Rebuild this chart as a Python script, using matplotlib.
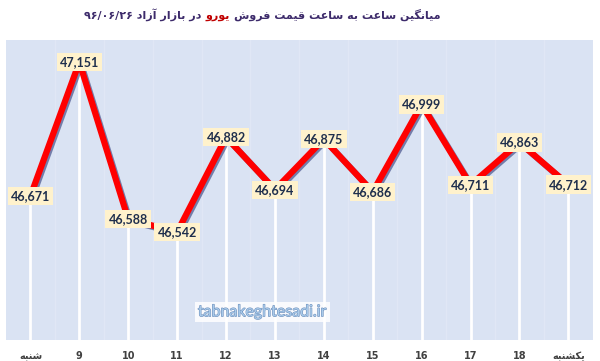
import matplotlib
matplotlib.use("Agg")
import matplotlib.pyplot as plt
import matplotlib.patheffects as pe

# hourly average euro price, free market 96/06/26
hours = ["شنبه", "9", "10", "11", "12", "13", "14", "15", "16", "17", "18", "یکشنبه"]
prices = [46671, 47151, 46588, 46542, 46882, 46694, 46875, 46686, 46999, 46711, 46863, 46712]

title_a = "میانگین ساعت به ساعت قیمت فروش"
title_b = "یورو"
title_c = "در بازار آزاد"
title_date = "۹۶/۰۶/۲۶"

# minimal persian shaping (matplotlib has no bidi / joining)
FORMS = {
    "ا": ("\uFE8D", "\uFE8E", None, None), "آ": ("\uFE81", "\uFE82", None, None),
    "د": ("\uFEA9", "\uFEAA", None, None), "ر": ("\uFEAD", "\uFEAE", None, None),
    "ز": ("\uFEAF", "\uFEB0", None, None), "و": ("\uFEED", "\uFEEE", None, None),
    "ب": ("\uFE8F", "\uFE90", "\uFE91", "\uFE92"), "ت": ("\uFE95", "\uFE96", "\uFE97", "\uFE98"),
    "س": ("\uFEB1", "\uFEB2", "\uFEB3", "\uFEB4"), "ش": ("\uFEB5", "\uFEB6", "\uFEB7", "\uFEB8"),
    "ع": ("\uFEC9", "\uFECA", "\uFECB", "\uFECC"), "ف": ("\uFED1", "\uFED2", "\uFED3", "\uFED4"),
    "ق": ("\uFED5", "\uFED6", "\uFED7", "\uFED8"), "م": ("\uFEE1", "\uFEE2", "\uFEE3", "\uFEE4"),
    "ن": ("\uFEE5", "\uFEE6", "\uFEE7", "\uFEE8"), "ه": ("\uFEE9", "\uFEEA", "\uFEEB", "\uFEEC"),
    "ی": ("\uFBFC", "\uFBFD", "\uFBFE", "\uFBFF"), "ک": ("\uFB8E", "\uFB8F", "\uFB90", "\uFB91"),
    "گ": ("\uFB92", "\uFB93", "\uFB94", "\uFB95"),
}


def shape(s):
    out = []
    for i, c in enumerate(s):
        if c not in FORMS:
            out.append(c)
            continue
        prev = s[i - 1] if i > 0 else ""
        nxt = s[i + 1] if i + 1 < len(s) else ""
        jp = prev in FORMS and FORMS[prev][2] is not None
        jn = FORMS[c][2] is not None and nxt in FORMS
        iso, fin, ini, med = FORMS[c]
        out.append(med if jp and jn else fin if jp else ini if jn else iso)
    return "".join(out)[::-1]


def label(s):
    return shape(s) if any(c in FORMS for c in s) else s


fig = plt.figure(figsize=(6, 3.61), dpi=100)
fig.patch.set_facecolor("white")
ax = fig.add_axes([0.01, 0.058, 0.978, 0.831])
ax.set_facecolor("#dae3f3")

x = list(range(len(hours)))
ax.set_xlim(-0.5, len(hours) - 0.5)
ax.set_ylim(46155, 47230)

for i in x:
    ax.axvline(i + 0.5, color="#e0e7f5", lw=1, zorder=1)
ax.vlines(x, 46155, prices, color="white", lw=2, zorder=2)

ax.plot(x, prices, color="#ff0000", lw=4.5, solid_capstyle="butt", zorder=3,
        path_effects=[pe.SimpleLineShadow(offset=(1.2, -1.2), shadow_color="#1f2a6e", alpha=0.55),
                      pe.Normal()])

for i, v in zip(x, prices):
    ax.text(i, v, f"{v:,}", ha="center", va="center", fontsize=9, fontweight="bold",
            family="Lato", color="#1f2f4d", zorder=5,
            bbox=dict(boxstyle="square,pad=0.25", fc="#fff2cc", ec="none"))

ax.set_xticks(x)
ax.set_xticklabels([label(h) for h in hours], fontsize=7, fontweight="bold", color="#404040",
                   family=["DejaVu Sans"])
ax.tick_params(axis="x", length=0, pad=8)
ax.set_yticks([])
for s in ax.spines.values():
    s.set_visible(False)

# title built from pieces, left to right in visual order
tcol = "#3d2b6b"
tsize = 8
t0 = fig.text(0.14, 0.96, title_date + " " + shape(title_c) + " ", fontsize=tsize,
              fontweight="bold", color=tcol, va="center", ha="left")
t1 = ax.annotate(shape(title_b) + " ", xy=(1, 0), xycoords=t0, va="bottom", ha="left",
                 fontsize=tsize, fontweight="bold", color="#c00000")
t2 = ax.annotate(shape(title_a), xy=(1, 0), xycoords=t1, va="bottom", ha="left",
                 fontsize=tsize, fontweight="bold", color=tcol)

fig.text(0.437, 0.135, "tabnakeghtesadi.ir", fontsize=11.5, color="#a9cbea", ha="center",
         va="center", family="Lato",
         path_effects=[pe.withStroke(linewidth=0.8, foreground="#6f90bd")],
         bbox=dict(boxstyle="square,pad=0.2", fc="white", ec="none", alpha=0.85))

fig.savefig("out.png", dpi=100)
